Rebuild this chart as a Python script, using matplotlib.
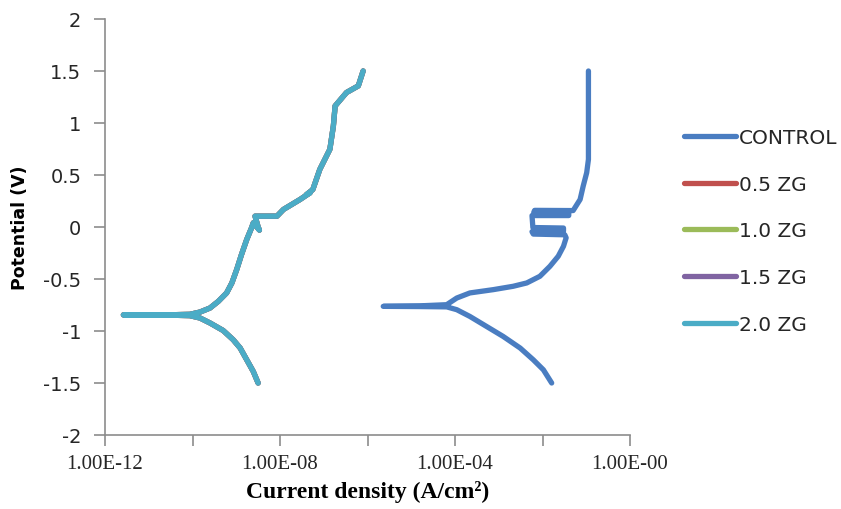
import numpy as np
import matplotlib
matplotlib.use('Agg')
import matplotlib.pyplot as plt
from matplotlib.ticker import FixedLocator, FixedFormatter, NullLocator

plt.rcParams['axes.unicode_minus'] = False

# readings: log10(current density) and potential (V)
control_logi = [-1.79, -1.98, -2.21, -2.51, -2.90, -3.28, -3.66, -3.96, -4.19, -4.80,
                -5.64, -4.80, -4.19, -3.96, -3.66, -3.12, -2.67, -2.36, -2.06, -1.83,
                -1.64, -1.52, -1.46, -1.49, -2.21, -2.24, -1.52, -1.52, -2.22,
                -2.24, -1.40, -1.40, -2.20, -2.18, -1.30, -1.14, -1.07, -0.99, -0.95,
                -0.95, -0.95]
control_E = [-1.50, -1.373, -1.277, -1.164, -1.052, -0.956, -0.860, -0.795, -0.768, -0.765,
             -0.763, -0.758, -0.747, -0.683, -0.634, -0.602, -0.570, -0.538, -0.474, -0.378,
             -0.281, -0.185, -0.104, -0.075, -0.068, -0.045, -0.04, -0.01, -0.005,
             0.11, 0.11, 0.13, 0.14, 0.16, 0.158, 0.265, 0.393, 0.522, 0.65,
             1.036, 1.50]

zg20_logi = [-8.50, -8.61, -8.76, -8.91, -9.07, -9.30, -9.60, -9.83, -10.06, -10.40,
             -10.74, -11.20, -11.58, -11.20, -10.74, -10.40, -10.06, -9.83, -9.60, -9.41,
             -9.22, -9.10, -8.99, -8.88, -8.76, -8.65, -8.61, -8.47, -8.50, -8.57,
             -8.07, -7.92, -7.54, -7.31, -7.40, -7.25, -7.09, -6.86, -6.78, -6.74,
             -6.48, -6.21, -6.10]
zg20_E = [-1.50, -1.39, -1.277, -1.164, -1.084, -0.995, -0.923, -0.875, -0.852, -0.849,
          -0.847, -0.846, -0.845, -0.844, -0.843, -0.843, -0.840, -0.818, -0.779, -0.715,
          -0.634, -0.538, -0.41, -0.265, -0.12, -0.008, 0.04, -0.03, 0.0, 0.104,
          0.104, 0.169, 0.265, 0.33, 0.31, 0.36, 0.554, 0.747, 0.972, 1.164,
          1.293, 1.357, 1.50]
# the 0.5, 1.0 and 1.5 ZG curves lie under the 2.0 ZG curve in the picture
zg05_logi, zg05_E = list(zg20_logi), list(zg20_E)
zg10_logi, zg10_E = list(zg20_logi), list(zg20_E)
zg15_logi, zg15_E = list(zg20_logi), list(zg20_E)

names = ['CONTROL', '0.5 ZG', '1.0 ZG', '1.5 ZG', '2.0 ZG']
colours = ['#4A7DC1', '#C0504D', '#9BBB59', '#8064A2', '#4BACC6']
series = [(control_logi, control_E), (zg05_logi, zg05_E), (zg10_logi, zg10_E),
          (zg15_logi, zg15_E), (zg20_logi, zg20_E)]

xtick_pos = [1e-12, 1e-10, 1e-8, 1e-6, 1e-4, 1e-2, 1e0]
xtick_lab = ['1.00E-12', '', '1.00E-08', '', '1.00E-04', '', '1.00E-00']
ytick_pos = [2, 1.5, 1, 0.5, 0, -0.5, -1, -1.5, -2]
ytick_lab = ['2', '1.5', '1', '0.5', '0', '-0.5', '-1', '-1.5', '-2']

fig = plt.figure(figsize=(8.41, 5.10), dpi=100)
ax = fig.add_axes([105/841, 1 - 436/510, 525/841, 416/510])

for (lx, E), name, c in zip(series, names, colours):
    ax.plot(10**np.array(lx), E, color=c, lw=3.8, label=name,
            solid_capstyle='round', solid_joinstyle='round')

ax.set_xscale('log')
ax.set_xlim(1e-12, 1e0)
ax.set_ylim(-2, 2)
ax.xaxis.set_major_locator(FixedLocator(xtick_pos))
ax.xaxis.set_major_formatter(FixedFormatter(xtick_lab))
ax.xaxis.set_minor_locator(NullLocator())
ax.yaxis.set_major_locator(FixedLocator(ytick_pos))
ax.yaxis.set_major_formatter(FixedFormatter(ytick_lab))

for s in ['top', 'right']:
    ax.spines[s].set_visible(False)
for s in ['left', 'bottom']:
    ax.spines[s].set_color('#8C8C8C')
    ax.spines[s].set_linewidth(1.2)
ax.tick_params(axis='both', direction='out', length=8, width=1.2, color='#8C8C8C')
ax.tick_params(axis='y', labelsize=14, labelcolor='#262626', pad=9)
ax.tick_params(axis='x', labelsize=15, labelcolor='#262626', pad=6)
for t in ax.get_xticklabels():
    t.set_family('Liberation Serif')

ax.set_xlabel('Current density (A/cm²)', family='Liberation Serif', fontweight='bold',
              fontsize=17, labelpad=5)
ax.set_ylabel('Potential (V)', fontweight='bold', fontsize=12.5, labelpad=10)

fig.legend(loc='upper left', bbox_to_anchor=(676/841, 1 - 121/510), frameon=False,
           fontsize=14.5, handlelength=2.6, handletextpad=0.12, labelspacing=1.375,
           borderaxespad=0, labelcolor='#262626')

fig.savefig('out.png', dpi=100)
